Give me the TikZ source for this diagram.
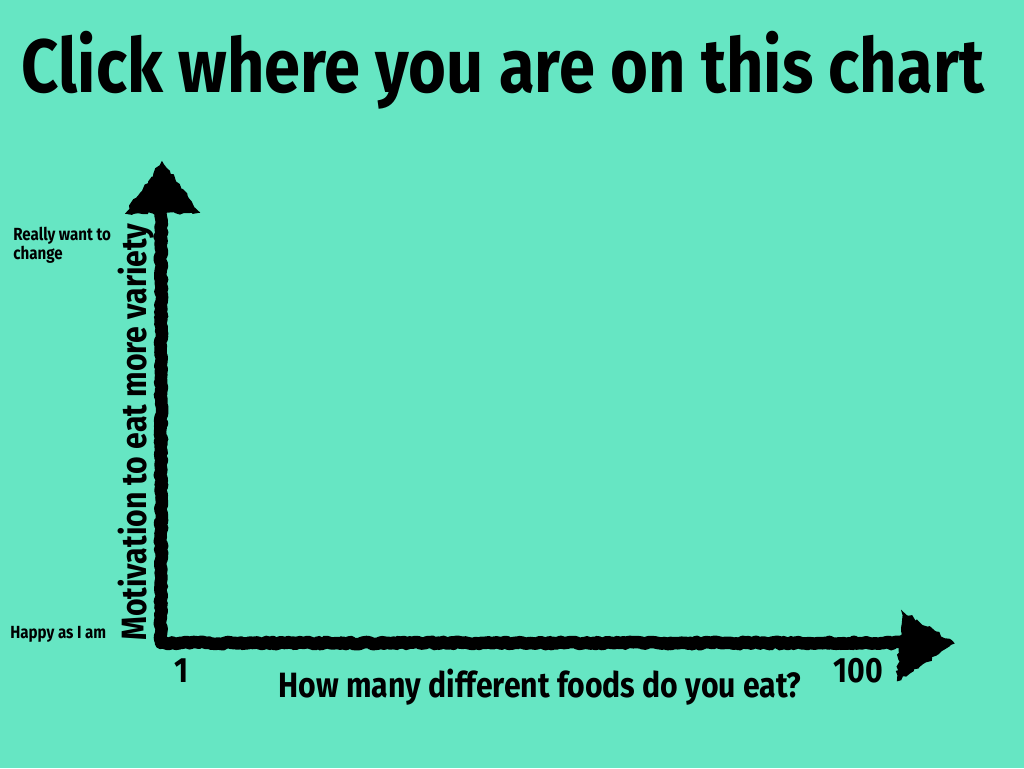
\documentclass[tikz,border=0pt]{standalone}
\usepackage{fontspec}
\setmainfont{Fira Sans}[FakeStretch=0.86]
\usetikzlibrary{positioning,decorations.pathmorphing}
\definecolor{chartmint}{HTML}{66E6C3}

\begin{document}
\begin{tikzpicture}[x=0.02cm, y=-0.02cm, font=\bfseries,
  chalk/.style={draw=black, line width=0.25cm, line join=round,
    decorate, decoration={random steps, segment length=1.5pt, amplitude=0.7pt}},
  chalkhead/.style={fill=black, draw=black, line width=1.2pt,
    decorate, decoration={random steps, segment length=2pt, amplitude=1pt}},
  biglabel/.style={font=\bfseries\fontsize{20}{22}\selectfont},
  smalllabel/.style={font=\bfseries\fontsize{10}{10.8}\selectfont, align=left}]
  % background
  \fill[chartmint] (0,0) rectangle (1024,768);
  \useasboundingbox (0,0) rectangle (1024,768);
  % title
  \node[anchor=base] (title) at (503,92) {\fontsize{43}{50}\selectfont Click where you are on this chart};
  % axes
  \coordinate (origin) at (161,643);
  \coordinate (ytop) at (161,212);
  \coordinate (xend) at (902,643);
  \draw[chalk] (ytop) -- (origin) -- (xend);
  \draw[chalkhead] (127,213) -- (162,163) -- (198,212) -- cycle;
  \draw[chalkhead] (903,613) -- (953,643) -- (898,680) -- cycle;
  % axis labels
  \node[biglabel, rotate=90, anchor=base] (ylabel) at (146,432) {Motivation to eat more variety};
  \node[biglabel, anchor=base] (xlabel) at (540,697) {How many different foods do you eat?};
  \node[biglabel, anchor=base] (xmin) at (182,682) {1};
  \node[biglabel, anchor=base] (xmax) at (858,682) {100};
  \node[smalllabel, anchor=base west, inner sep=0pt] (ymax) at (13,259) {Really want to\\change};
  \node[smalllabel, anchor=base west, inner sep=0pt] (ymin) at (10,638) {Happy as I am};
\end{tikzpicture}
\end{document}
